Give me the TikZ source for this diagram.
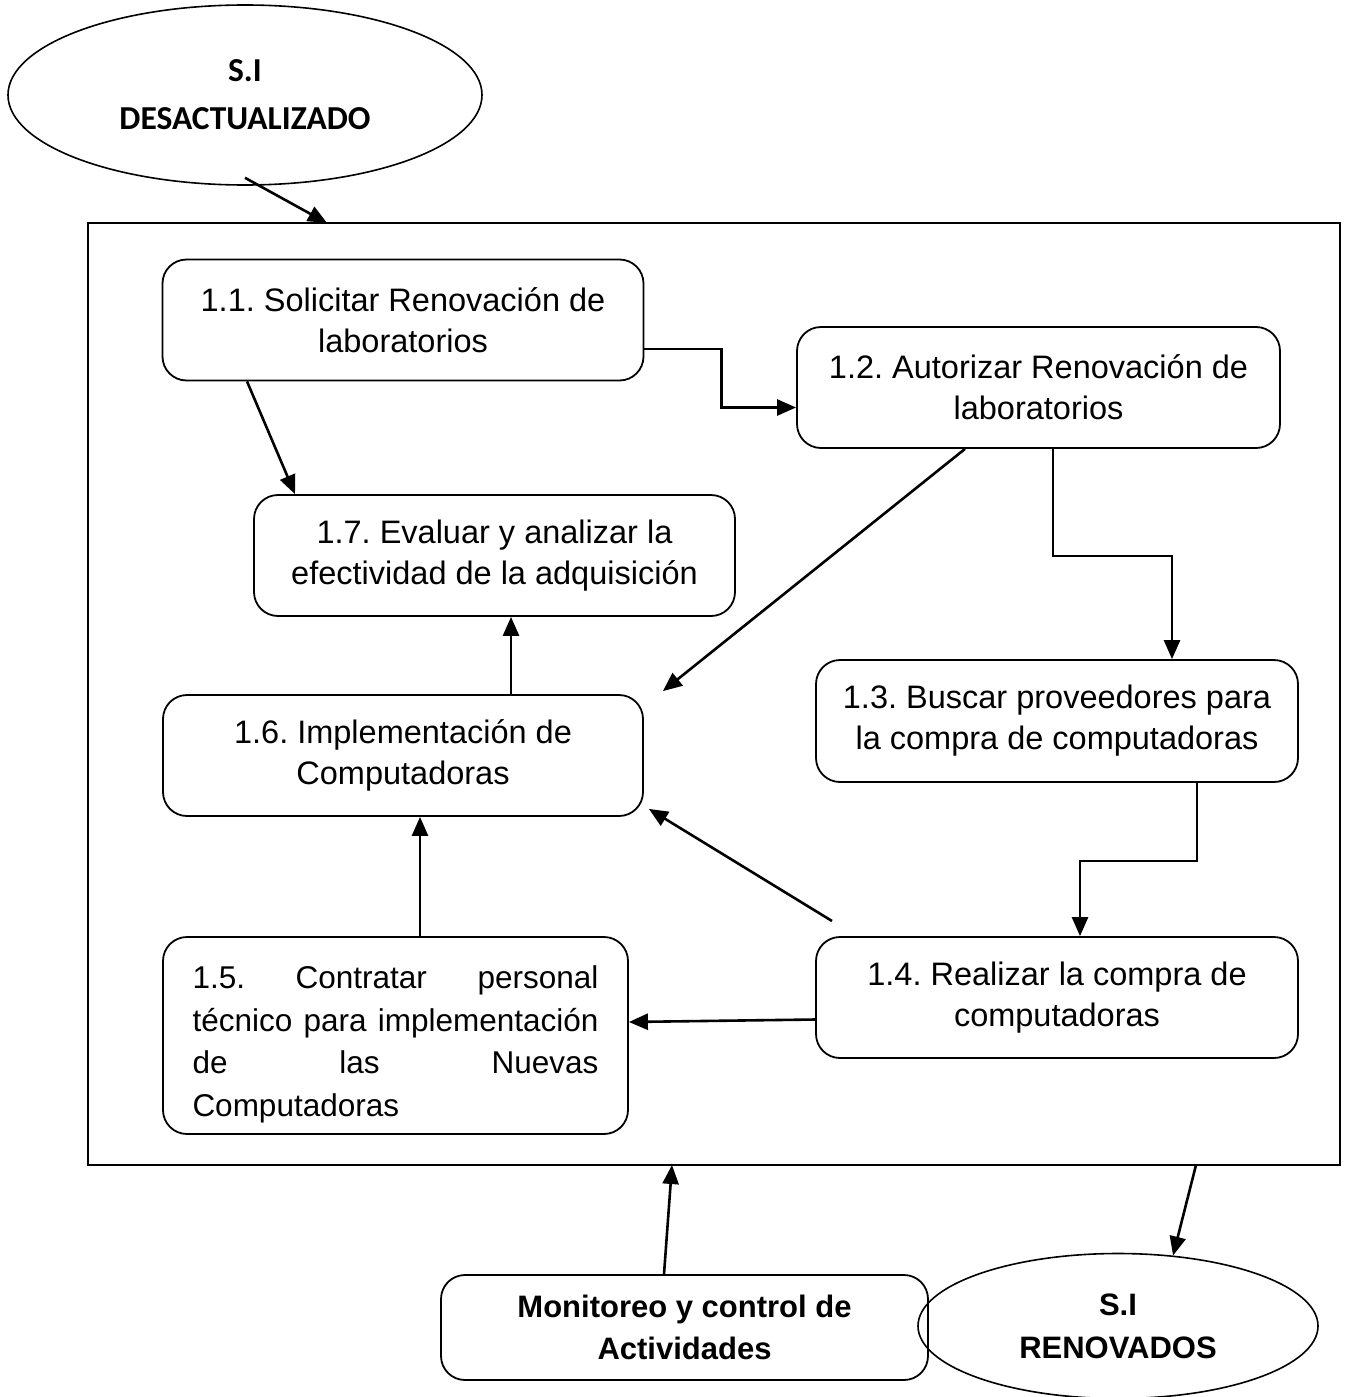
\documentclass[tikz,border=0pt]{standalone}
\usepackage{fontspec}
\setmainfont{Liberation Sans}
\newfontfamily\cali{Carlito}
\frenchspacing
\usetikzlibrary{shapes.geometric, arrows.meta, positioning, calc}
\tikzset{
  cx/.style = {draw=black, rounded corners=24pt, line width=1.8pt, fill=white,
    align=center, inner sep=0pt, minimum width=481pt, minimum height=121pt,
    font=\fontsize{32.5}{41}\selectfont},
  elp/.style = {ellipse, draw=black, line width=1.6pt, align=center, inner sep=0pt},
  bmon/.style = {draw=black, rounded corners=24pt, line width=1.8pt, align=center,
    inner sep=0pt, minimum width=487pt, minimum height=105pt,
    font=\bfseries\fontsize{31}{42}\selectfont},
  marco/.style = {draw=black, line width=1.8pt, inner sep=0pt,
    minimum width=1252pt, minimum height=942pt},
  seta/.style = {-{Triangle[length=19pt,width=16pt]}, line width=2.6pt},
  lp/.style = {line width=2.6pt}
}

\begin{document}
\begin{tikzpicture}[x=1pt, y=-1pt]
  \useasboundingbox (0,0) rectangle (1355,1397);
  \node [marco] (sis) at (714,694) {};
  \node [elp, minimum width=474pt, minimum height=180pt,
    font=\cali\bfseries\fontsize{33.5}{48}\selectfont] (eds) at (245,95) {S.I\\DESACTUALIZADO};
  \node [cx] (c11) at (403,320) {1.1. Solicitar Renovación de\\laboratorios};
  \node [cx, minimum width=483pt] (c12) at (1038.5,387.5) {1.2. Autorizar Renovación de\\laboratorios};
  \node [cx] (c17) at (494.5,555.5) {1.7. Evaluar y analizar la\\efectividad de la adquisición};
  \node [cx, minimum width=480pt] (c16) at (403,755.5) {1.6. Implementación de\\Computadoras};
  \node [cx, minimum width=482pt, minimum height=122pt] (c13) at (1057,721) {1.3. Buscar proveedores para\\la compra de computadoras};
  \node [cx, minimum width=482pt] (c14) at (1057,997.5) {1.4. Realizar la compra de\\computadoras};
  \node [cx, align=left, text width=406pt, inner xsep=29.5pt, minimum width=465pt,
    minimum height=197pt, font=\fontsize{31.5}{42.5}\selectfont] (c15) at (395.5,1035.5)
    {\rule{0pt}{41pt}1.5.\hfill Contratar\hfill personal\\
     técnico\hfill para\hfill implementación\\
     de\hfill las\hfill Nuevas\\
     Computadoras};
  \node [bmon] (cmon) at (684.5,1327.5) {Monitoreo y control de\\Actividades};
  \node [elp, minimum width=400pt, minimum height=145pt,
    font=\bfseries\fontsize{31}{43}\selectfont] (ren) at (1118,1326) {S.I\\RENOVADOS};
  \coordinate (pin) at (327,223);
  \coordinate (pmon) at (672,1165);
  \coordinate (pout) at (1196,1165);
  \coordinate (q14) at (832,921);
  \draw [seta] ([yshift=8pt]eds.south) -- (pin);
  \draw [seta] ([yshift=-29pt]c11.east) -- ++(77,0) |- ([yshift=-20pt]c12.west);
  \draw [seta] ([xshift=-156pt]c11.south) -- ([xshift=-199.5pt]c17.north);
  \draw [seta] ([xshift=-73.5pt]c12.south) -- ([xshift=19pt,yshift=3pt]c16.north east);
  \draw [seta] ([xshift=14.5pt]c12.south) -- ++(0,107) -| ([xshift=115pt]c13.north);
  \draw [seta] ([xshift=140pt]c13.south) -- ++(0,78) -| ([xshift=23pt]c14.north);
  \draw [seta] (q14) -- ([xshift=5pt,yshift=8pt]c16.south east);
  \draw [seta] ([yshift=-22pt]c14.west) -- ([yshift=13.5pt]c15.east);
  \draw [seta] ([xshift=24.5pt]c15.north) -- ([xshift=17pt]c16.south);
  \draw [seta] ([xshift=108pt]c16.north) -- ([xshift=16.5pt]c17.south);
  \draw [seta] ([xshift=-20.5pt]cmon.north) -- (pmon);
  \draw [seta] (pout) -- (ren.52);
\end{tikzpicture}
\end{document}
